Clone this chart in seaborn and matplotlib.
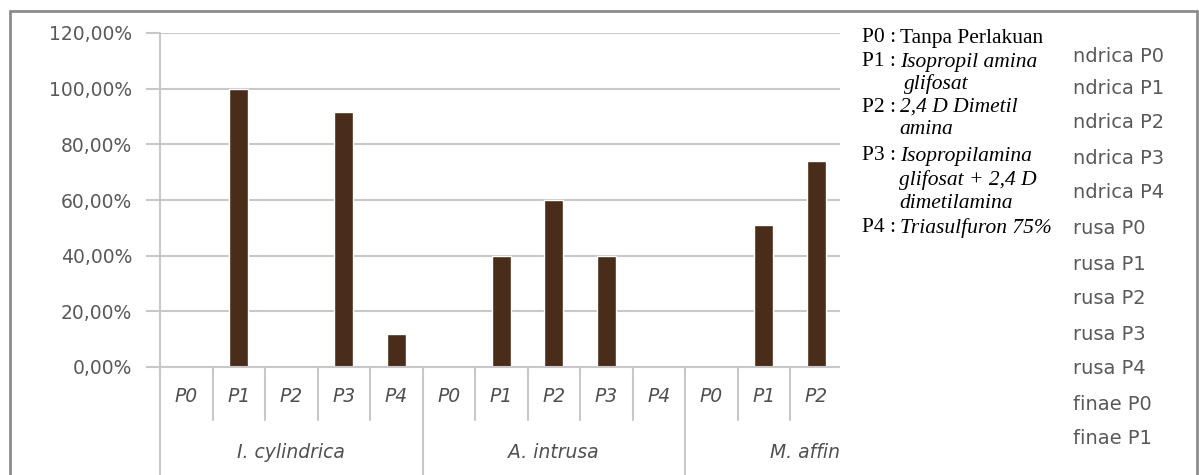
import matplotlib.pyplot as plt
import matplotlib.transforms as mtransforms
from matplotlib.patches import Rectangle
from matplotlib.lines import Line2D
from matplotlib.ticker import FuncFormatter
import seaborn as sns

# data (percent)
groups = ['I. cylindrica', 'A. intrusa', 'M. affinae']
treatments = ['P0', 'P1', 'P2', 'P3', 'P4']
cyl_values = [0, 100, 0, 91.67, 12]
intr_values = [0, 40, 60, 40, 0]
aff_values = [0, 51, 74]  # P3, P4 hidden under the text box
# legend entries as far as they show from under the text box
legend_visible = ['ndrica P0', 'ndrica P1', 'ndrica P2', 'ndrica P3', 'ndrica P4',
                  'rusa P0', 'rusa P1', 'rusa P2', 'rusa P3', 'rusa P4',
                  'finae P0', 'finae P1']
note_lines = [
    ('P0 :', 'Tanpa Perlakuan', False),
    ('P1 :', 'Isopropil amina', True),
    ('', 'glifosat', True),
    ('P2 :', '2,4 D Dimetil', True),
    ('', 'amina', True),
    ('P3 :', 'Isopropilamina', True),
    ('', 'glifosat + 2,4 D', True),
    ('', 'dimetilamina', True),
    ('P4 :', 'Triasulfuron 75%', True),
]

W, H = 1199, 475
def fx(px):
    return px / W
def fy(py):
    return 1 - py / H

sns.set_style('white')
plt.rcParams['font.family'] = ['DejaVu Sans']

labels = [f'{g} {t}' for g in groups for t in treatments][:13]
values = cyl_values + intr_values + aff_values

fig = plt.figure(figsize=(W / 100, H / 100), dpi=100)
ax = fig.add_axes([fx(160), fy(367), (15 * 52.5) / W, 334 / H])
sns.barplot(x=labels, y=values, color='#4a2c1a', width=0.37, saturation=1, ax=ax)

ax.set_xlim(-0.5, 14.5)
ax.set_ylim(0, 120)
ax.set_yticks(range(0, 121, 20))
ax.yaxis.set_major_formatter(FuncFormatter(lambda v, p: f'{v:.2f}%'.replace('.', ',')))
ax.tick_params(axis='y', labelsize=13.5, labelcolor='#595959', colors='#c8c8c8',
               length=10, width=1.5, left=True, pad=10)
ax.set_xticks([])
ax.set_xlabel('')
ax.set_ylabel('')
ax.grid(axis='y', color='#c8c8c8', linewidth=1.5)
for s in ['top', 'right', 'left']:
    ax.spines[s].set_visible(False)
ax.spines['bottom'].set_color('#c8c8c8')
ax.spines['bottom'].set_linewidth(1.5)

# category axis drawn Excel style
trans = mtransforms.blended_transform_factory(ax.transData, ax.transAxes)
bottom = -108 / 334
for i in range(16):
    xpos = i - 0.5
    y0 = bottom if i % 5 == 0 else -53 / 334
    ax.add_line(Line2D([xpos, xpos], [1 if i == 0 else 0, y0], transform=trans,
                       color='#c8c8c8', lw=1.5, clip_on=False))
for gi, g in enumerate(groups):
    for ti, t in enumerate(treatments):
        ax.text(gi * 5 + ti, -30 / 334, t, transform=trans, ha='center', va='center',
                fontsize=13.5, style='italic', color='#505050')
    ax.text(gi * 5 + 2, -85 / 334, g, transform=trans, ha='center', va='center',
            fontsize=13.5, style='italic', color='#505050')

# legend entries
leg_y = [57, 89, 123, 158, 193, 228, 264, 299, 334, 369, 404, 439]
for lab, y in zip(legend_visible, leg_y):
    fig.text(fx(1073), fy(y), lab, ha='left', va='center', fontsize=14,
             color='#595959', zorder=1)

# outer chart border
for xs, ys in [([10, 10], [475, 11]), ([10, 1197], [11, 11]), ([1197, 1197], [11, 475])]:
    fig.add_artist(Line2D([fx(v) for v in xs], [fy(v) for v in ys], color='#8c8c8c',
                          lw=2, zorder=2))

# white text box on top
fig.add_artist(Rectangle((fx(840), 0), fx(1071) - fx(840), fy(13), facecolor='white',
                         edgecolor='none', zorder=5))
note_y = [38, 62, 84, 107, 130, 156, 180, 203, 228]
for (pre, body, ital), y in zip(note_lines, note_y):
    if pre:
        fig.text(fx(862), fy(y), pre, ha='left', va='center', fontsize=15.5,
                 family='Liberation Serif', color='black', zorder=6)
        fig.text(fx(900), fy(y), body, ha='left', va='center', fontsize=15.5,
                 family='Liberation Serif', style='italic' if ital else 'normal',
                 color='black', zorder=6)
    else:
        xoff = 904 if body == 'glifosat' else 899
        fig.text(fx(xoff), fy(y), body, ha='left', va='center', fontsize=15.5,
                 family='Liberation Serif', style='italic', color='black', zorder=6)

fig.savefig('out.png', dpi=100)
